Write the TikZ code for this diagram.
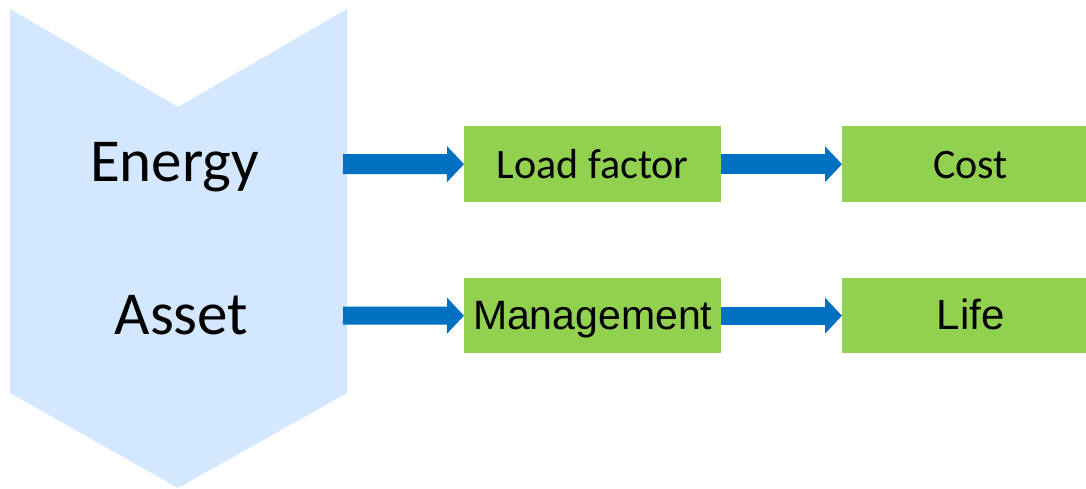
\documentclass[tikz,border=0pt]{standalone}
\usepackage{fontspec}
\setmainfont{Carlito}
\newfontfamily\arialf{Liberation Sans}
\usetikzlibrary{arrows.meta}
\definecolor{chevblue}{HTML}{D3E7FE}
\definecolor{boxgreen}{HTML}{92D050}
\definecolor{arrowblue}{HTML}{0070C0}
\tikzset{
  stagebox/.style={fill=boxgreen, draw=none, inner sep=0pt, anchor=north west,
    minimum width=257pt, minimum height=76pt, text height=28pt, text depth=0pt},
  biglabel/.style={anchor=base, inner sep=0pt, font=\fontsize{61}{73}\selectfont},
  blockarrow/.style={draw=arrowblue, line width=20pt,
    -{Triangle[width=35pt,length=17pt]}},
}
\begin{document}
\begin{tikzpicture}[x=1pt,y=-1pt]
\useasboundingbox (0,0) rectangle (1086,489);
% downward chevron
\fill[chevblue] (10,9) -- (178,107) -- (347,9) -- (347,393) -- (178,488) -- (10,393) -- cycle;
\node[biglabel] (energy) at (174.5,182) {Energy};
\node[biglabel] (asset) at (181.5,334) {Asset};
% stages (the right-hand column runs past the page edge)
\node[stagebox, font=\fontsize{42}{50}\selectfont] (load) at (464,126) {Load factor};
\node[stagebox, font=\fontsize{42}{50}\selectfont] (cost) at (842,126) {Cost};
\node[stagebox, minimum height=75pt, font=\arialf\fontsize{41}{48}\selectfont] (mgmt) at (464,278) {Management};
\node[stagebox, minimum height=75pt, font=\arialf\fontsize{42}{49}\selectfont] (life) at (842,278) {Life};
% arrow starts
\coordinate (s1) at (343,164);
\coordinate (s2) at (343,315.5);
\draw[blockarrow] (s1) -- (load.west);
\draw[blockarrow] (load.east) -- (cost.west);
\draw[blockarrow, line width=18pt] (s2) -- (mgmt.west);
\draw[blockarrow, line width=18pt] (mgmt.east) -- (life.west);
\end{tikzpicture}
\end{document}
